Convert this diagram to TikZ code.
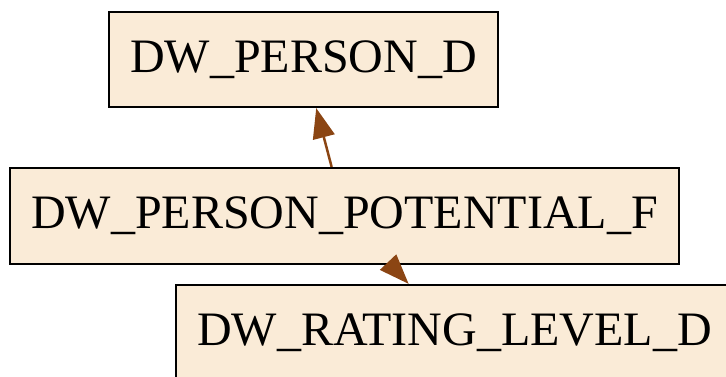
\documentclass[tikz,border=0pt]{standalone}
\usepackage{fontspec}
\setmainfont{Liberation Serif}
\usetikzlibrary{arrows.meta}
\definecolor{boxfill}{HTML}{FAEBD7}
\definecolor{edgecol}{HTML}{8B4513}
\begin{document}
\begin{tikzpicture}[x=1pt,y=1pt,
  tbl/.style={draw=black,line width=2.2pt,fill=boxfill,inner sep=0pt,
    font=\fontsize{48}{57}\selectfont},
  rel/.style={draw=edgecol,line width=2.5pt,
    -{Triangle[length=30pt,width=22pt,fill=edgecol]}}]
\clip (0,0) rectangle (726,376);
\useasboundingbox (0,0) rectangle (726,376);
\node[tbl,minimum width=389pt,minimum height=95pt] (top) at (303.5,316.5) {DW\_PERSON\_D};
\node[tbl,minimum width=669pt,minimum height=96pt] (mid) at (344.5,160) {DW\_PERSON\_POTENTIAL\_F};
\node[tbl,minimum width=557pt,minimum height=95pt] (bot) at (454.5,43.5) {DW\_RATING\_LEVEL\_D};
\draw[rel] (mid) -- (top);
\draw[rel] (mid) -- (bot);
\end{tikzpicture}
\end{document}
